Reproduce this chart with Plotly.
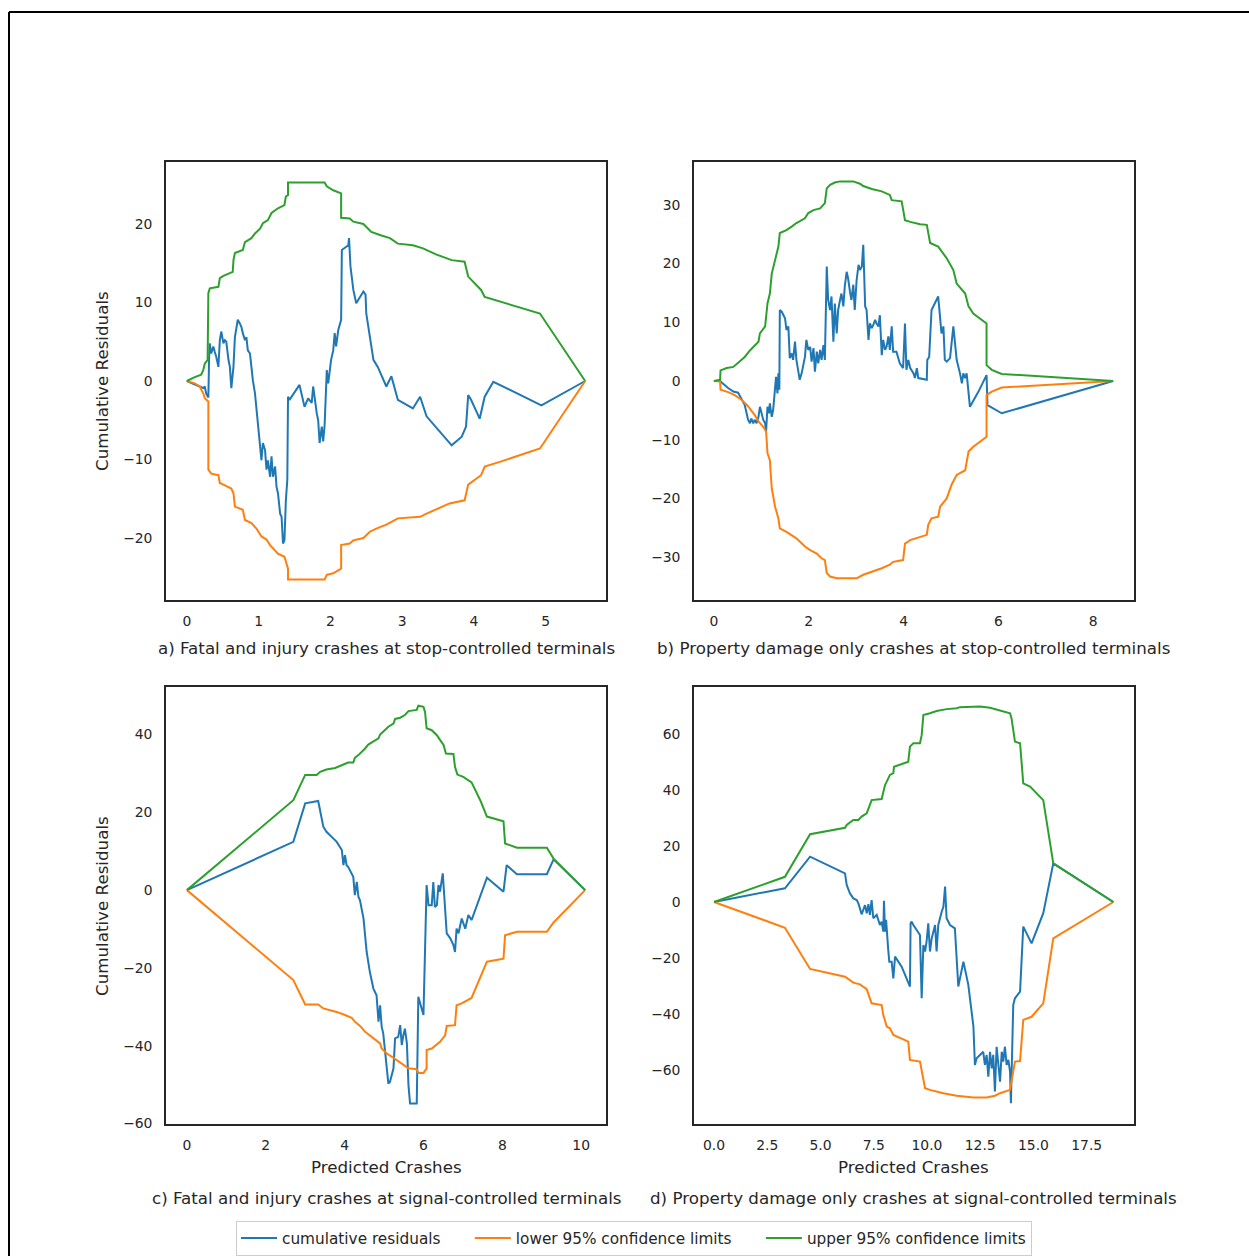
import plotly.graph_objects as go

# ---------------- data ----------------
# a) Fatal and injury crashes at stop-controlled terminals
A_RES_X = [0,0.09,0.18,0.23,0.25,0.27,0.30,0.31,0.32,0.34,
           0.37,0.39,0.41,0.44,0.46,0.48,0.51,0.53,0.55,0.58,
           0.60,0.62,0.65,0.67,0.69,0.71,0.74,0.76,0.78,0.81,
           0.83,0.85,0.88,0.90,0.92,0.95,0.97,0.99,1.02,1.04,
           1.06,1.09,1.11,1.13,1.16,1.18,1.20,1.23,1.25,1.27,
           1.30,1.32,1.34,1.36,1.38,1.40,1.41,1.43,1.57,1.64,
           1.69,1.74,1.76,1.78,1.81,1.83,1.85,1.88,1.90,1.92,
           1.95,1.97,1.99,2.01,2.04,2.06,2.08,2.11,2.15,2.16,
           2.25,2.26,2.28,2.32,2.36,2.46,2.49,2.50,2.60,2.66,
           2.78,2.85,2.94,3.15,3.25,3.34,3.69,3.83,3.89,3.92,
           3.96,4.08,4.15,4.27,4.94,5.55]
A_RES_Y = [0,-0.3,-0.7,-0.9,-0.7,-1.6,-2.1,2.7,4.8,3.5,
           4.4,3.7,3.1,1.8,5.2,6.3,4.8,5.2,5.0,2.7,
           1.8,-0.9,1.8,5.6,6.9,7.8,7.3,6.9,6.1,5.2,
           5.6,3.9,3.5,1.4,0.1,-1.6,-3.3,-5.8,-8.4,-10.1,
           -7.9,-8.8,-11.3,-10.1,-12.2,-9.6,-12.2,-10.9,-13.5,-14.3,
           -16.9,-17.3,-20.7,-20.3,-15.2,-12.6,-2.0,-2.4,-0.5,-3.3,
           -2.2,-2.8,-0.7,-2.4,-4.1,-5.0,-7.9,-5.8,-7.7,-5.6,
           1.4,-0.3,1.4,2.7,3.9,6.1,4.4,6.5,7.8,16.7,
           17.3,18.2,14.6,11.6,9.9,11.4,11.0,8.6,2.7,1.8,
           -0.7,0.6,-2.4,-3.5,-2.0,-4.5,-8.2,-7.1,-5.8,-1.8,
           -2.4,-4.8,-2.0,-0.1,-3.1,0]
A_LOW_X = [0,0.11,0.18,0.23,0.25,0.30,0.30,0.34,0.44,0.46,0.51,0.62,0.65,0.67,0.78,0.81,
           0.90,0.97,1.04,1.11,1.16,1.27,1.36,1.39,1.41,1.41,1.92,1.95,2.04,2.15,2.15,
           2.27,2.32,2.46,2.55,2.64,2.78,2.94,3.25,3.34,3.66,3.87,3.92,4.10,4.15,4.36,4.92,5.55]
A_LOW_Y = [0,-0.3,-0.7,-1.6,-2.2,-2.6,-11.3,-11.8,-12.0,-13.0,-13.2,-13.7,-14.3,-16.0,-16.4,-17.7,
           -18.1,-18.8,-19.8,-20.2,-20.9,-22.0,-22.4,-23.4,-23.9,-25.3,-25.3,-24.7,-24.5,-23.9,-20.9,
           -20.7,-20.3,-20.0,-19.2,-18.8,-18.3,-17.5,-17.3,-16.9,-15.6,-15.2,-13.2,-12.0,-10.9,-10.3,-8.6,0]
A_UP_X = [0,0.11,0.20,0.23,0.25,0.29,0.30,0.32,0.44,0.46,0.51,0.64,0.65,0.67,0.78,0.81,
          0.90,0.95,1.02,1.06,1.13,1.18,1.27,1.36,1.38,1.41,1.41,1.92,1.95,2.04,2.15,
          2.15,2.27,2.32,2.46,2.57,2.69,2.83,2.94,3.15,3.29,3.48,3.69,3.87,3.92,4.03,
          4.10,4.15,4.36,4.92,5.55]
A_UP_Y = [0,0.5,0.8,1.4,2.2,2.7,11.2,11.8,12.0,13.1,13.4,13.9,15.4,16.3,16.7,17.7,
          18.2,18.8,19.4,20.1,20.5,21.4,22.0,22.4,23.5,23.7,25.3,25.3,24.8,24.3,23.9,
          20.8,20.7,20.3,20.0,19.0,18.6,18.2,17.5,17.3,16.9,16.1,15.4,15.2,13.3,12.2,
          11.6,10.7,10.1,8.6,0]

# b) Property damage only crashes at stop-controlled terminals
B_RES_X = [0,0.13,0.20,0.30,0.41,0.51,0.58,0.65,0.69,0.72,
           0.76,0.79,0.83,0.86,0.90,0.94,0.97,1.01,1.04,1.08,
           1.10,1.13,1.16,1.18,1.22,1.25,1.29,1.31,1.34,1.36,
           1.38,1.39,1.43,1.50,1.53,1.57,1.60,1.64,1.67,1.71,
           1.74,1.78,1.81,1.85,1.88,1.92,1.95,1.99,2.03,2.06,
           2.10,2.13,2.17,2.20,2.24,2.27,2.31,2.34,2.38,2.41,
           2.45,2.48,2.52,2.55,2.59,2.62,2.66,2.69,2.73,2.76,
           2.80,2.83,2.87,2.90,2.94,2.97,3.01,3.05,3.08,3.12,
           3.15,3.16,3.19,3.22,3.26,3.29,3.33,3.36,3.40,3.43,
           3.47,3.50,3.54,3.57,3.61,3.64,3.68,3.71,3.75,3.78,
           3.85,3.92,3.99,4.03,4.06,4.10,4.14,4.21,4.24,4.28,
           4.31,4.49,4.50,4.54,4.56,4.59,4.73,4.77,4.80,4.84,
           4.87,4.91,4.98,5.05,5.08,5.12,5.19,5.23,5.26,5.30,
           5.33,5.40,5.58,5.75,5.77,6.07,8.42]
B_RES_Y = [0,0,-0.5,-1.2,-1.8,-2.0,-3.0,-4.1,-5.5,-6.6,
           -7.2,-6.4,-7.2,-6.6,-7.2,-6.1,-4.4,-5.5,-6.6,-7.2,
           -8.6,-4.4,-5.5,-3.8,-6.1,-4.9,-1.5,0.7,-2.1,1.3,
           -1.5,12.1,11.8,10.7,8.7,9.3,3.9,4.7,3.6,6.7,
           3.6,1.9,0.2,1.3,2.7,4.1,7.0,5.3,5.8,3.3,
           5.6,1.6,5.0,3.0,5.3,3.6,6.1,3.6,19.5,13.8,
           12.1,14.4,6.7,13.2,8.1,12.1,13.8,14.9,12.7,16.1,
           18.6,17.5,15.2,13.8,16.4,12.1,17.2,19.8,18.9,19.5,
           23.2,18.9,12.7,12.1,7.0,9.8,9.0,9.5,10.4,9.8,
           9.3,11.2,4.4,7.0,5.3,5.8,7.6,5.3,9.3,5.0,
           5.0,3.0,2.2,9.8,1.9,3.6,2.2,1.3,0.5,2.2,
           0.5,0.2,3.6,4.1,8.4,12.1,14.4,11.0,8.1,9.3,
           3.6,3.3,3.9,9.3,7.0,3.6,1.3,-0.4,1.3,0.5,
           1.3,-4.4,-1.8,1.0,-4.1,-5.5,0]
B_LOW_X = [0,0.13,0.14,0.30,0.44,0.58,0.72,0.86,0.94,1.04,
           1.10,1.13,1.18,1.22,1.29,1.36,1.39,1.53,1.74,1.92,
           2.03,2.17,2.27,2.34,2.38,2.45,2.59,3.01,3.15,3.33,
           3.54,3.71,3.78,3.99,4.03,4.14,4.49,4.52,4.59,4.73,
           4.77,4.91,5.01,5.12,5.30,5.37,5.47,5.75,5.75,5.86,
           6.07,8.42]
B_LOW_Y = [0,-0.1,-1.5,-1.9,-2.4,-3.2,-4.3,-5.8,-6.9,-7.8,
           -8.6,-12.3,-13.5,-18.3,-21.4,-23.4,-25.1,-25.7,-26.8,-28.2,
           -28.8,-29.4,-30.2,-30.5,-32.7,-33.3,-33.6,-33.6,-33.0,-32.5,
           -31.9,-31.3,-30.8,-30.5,-27.7,-27.1,-26.2,-24.5,-23.4,-23.1,
           -21.4,-20.0,-17.7,-16.0,-15.2,-12.0,-11.2,-9.5,-2.4,-1.8,
           -1.1,0]
B_UP_X = [0,0.13,0.14,0.27,0.41,0.55,0.65,0.76,0.83,0.94,
          0.97,1.08,1.13,1.18,1.22,1.29,1.36,1.39,1.53,1.64,
          1.74,1.92,1.99,2.10,2.24,2.34,2.38,2.45,2.55,2.66,
          2.94,3.08,3.15,3.33,3.54,3.71,3.75,3.96,4.03,4.14,
          4.35,4.49,4.56,4.73,4.91,5.05,5.12,5.30,5.37,5.47,
          5.75,5.75,5.86,6.07,8.42]
B_UP_Y = [0,0.2,1.8,2.2,2.4,3.3,4.1,5.2,5.8,6.7,
          8.1,9.3,13.2,14.9,18.3,20.6,22.9,25.2,25.7,26.3,
          26.9,27.7,28.6,29.1,29.4,30.3,32.8,33.4,33.8,34.0,
          34.0,33.6,33.2,32.7,32.3,31.7,30.8,30.6,27.4,27.1,
          26.7,26.6,23.5,22.9,20.9,18.9,16.6,14.9,12.7,11.5,
          9.8,2.7,1.9,1.2,0]

# c) Fatal and injury crashes at signal-controlled terminals
C_RES_X = [0,2.70,3.00,3.33,3.46,3.54,3.71,3.80,3.93,3.97,
           4.01,4.05,4.09,4.18,4.22,4.26,4.31,4.35,4.39,4.48,
           4.52,4.56,4.64,4.73,4.81,4.86,4.90,4.94,4.98,5.03,
           5.07,5.11,5.15,5.24,5.28,5.36,5.41,5.45,5.49,5.53,
           5.58,5.62,5.66,5.83,5.87,6.00,6.08,6.13,6.21,6.25,
           6.29,6.34,6.38,6.42,6.49,6.59,6.68,6.76,6.80,6.84,
           6.89,6.97,7.06,7.14,7.22,7.61,8.03,8.11,8.37,9.13,
           9.30,10.10]
C_RES_Y = [0,12.4,22.3,22.9,16.3,15.0,13.3,12.4,10.3,6.4,
           9.0,6.4,6.0,4.3,3.4,-1.3,2.1,-1.7,-2.6,-7.3,
           -12.4,-15.9,-21.0,-25.3,-27.0,-33.8,-29.6,-35.1,-36.8,-41.6,
           -46.7,-49.7,-49.3,-45.8,-38.1,-37.7,-34.7,-39.8,-37.3,-35.6,
           -39.4,-50.1,-54.8,-54.8,-27.4,-32.1,1.3,-3.9,-3.9,2.1,
           -4.3,-3.9,1.3,-0.4,4.3,-11.1,-12.4,-14.1,-15.9,-9.9,
           -11.1,-7.3,-9.9,-6.4,-7.7,3.2,-0.4,6.4,4.1,4.1,
           7.9,0]
C_LOW_X = [0,2.70,3.00,3.33,3.46,3.80,4.01,4.18,4.26,4.39,
           4.52,4.73,4.90,4.94,5.07,5.24,5.45,5.62,5.83,5.87,
           6.00,6.08,6.08,6.21,6.42,6.55,6.59,6.80,6.84,6.97,
           7.22,7.61,8.03,8.07,8.37,9.13,9.30,10.10]
C_LOW_Y = [0,-23.1,-29.4,-29.4,-30.4,-31.3,-32.1,-32.8,-33.8,-34.9,
           -36.4,-38.0,-39.4,-40.7,-42.0,-43.1,-44.6,-45.8,-46.0,-47.0,
           -47.0,-45.8,-41.1,-40.7,-39.0,-37.3,-34.9,-34.7,-29.6,-29.1,
           -27.7,-18.4,-17.6,-11.6,-10.7,-10.7,-8.3,0]
C_UP_X = [0,2.70,3.00,3.29,3.38,3.54,3.76,3.93,4.09,4.22,
          4.26,4.35,4.43,4.52,4.60,4.73,4.86,4.90,4.98,5.11,
          5.24,5.28,5.41,5.53,5.62,5.83,5.87,6.00,6.04,6.08,
          6.21,6.34,6.42,6.51,6.57,6.76,6.80,6.86,7.01,7.22,
          7.44,7.61,8.03,8.07,8.37,9.13,9.30,10.10]
C_UP_Y = [0,23.1,29.6,29.6,30.4,31.0,31.4,32.1,32.8,32.8,
          34.0,34.7,35.4,36.4,37.4,38.3,39.0,40.0,40.7,42.0,
          42.8,44.0,44.3,45.0,46.0,46.3,47.4,47.1,45.8,41.6,
          41.1,39.8,38.6,37.3,35.1,35.0,31.7,29.7,29.1,27.7,
          23.1,18.9,17.7,12.0,10.9,10.9,8.1,0]

# d) Property damage only crashes at signal-controlled terminals
D_RES_X = [0,3.33,4.51,6.15,6.23,6.38,6.54,6.70,6.78,6.93,
           7.09,7.17,7.25,7.32,7.40,7.48,7.64,7.79,7.87,7.95,
           7.98,8.03,8.08,8.14,8.18,8.23,8.34,8.42,8.50,8.81,
           9.05,9.20,9.23,9.28,9.36,9.67,9.75,9.83,9.91,9.98,
           10.06,10.14,10.22,10.38,10.45,10.53,10.69,10.77,10.85,10.92,
           11.08,11.31,11.47,11.71,11.94,12.02,12.18,12.25,12.33,12.64,
           12.72,12.80,12.88,12.96,13.04,13.11,13.19,13.27,13.35,13.43,
           13.51,13.58,13.66,13.74,13.82,13.90,13.94,14.05,14.13,14.37,
           14.52,14.91,15.46,15.93,18.75]
D_RES_Y = [0,4.9,16.2,10.2,6.1,3.1,1.3,0.7,-0.5,-4.4,
           -1.1,-4.0,-0.8,-4.6,0.7,-5.8,-4.6,-8.2,-7.0,-10.6,
           0.4,-10.6,-6.4,-15.4,-17.1,-21.3,-21.3,-27.3,-19.5,-23.1,
           -27.3,-30.2,-7.6,-7.0,-8.2,-11.8,-34.4,-15.4,-17.7,-14.2,
           -7.6,-17.7,-13.0,-8.2,-17.7,-8.2,-3.5,-1.7,5.5,-5.8,
           -8.2,-9.4,-30.2,-21.3,-29.6,-34.4,-44.5,-58.2,-55.8,-53.5,
           -58.2,-54.6,-62.4,-53.5,-59.4,-54.6,-67.7,-51.7,-57.0,-64.2,
           -53.5,-57.0,-51.7,-58.2,-56.4,-60.6,-71.9,-36.8,-34.4,-32.0,
           -8.8,-14.8,-4.0,13.8,0]
D_LOW_X = [0,3.33,4.51,6.15,6.54,6.85,7.17,7.40,7.87,7.95,
           8.11,8.26,8.42,9.12,9.20,9.67,9.91,10.14,10.77,11.39,
           12.18,12.80,13.19,13.43,13.90,14.13,14.37,14.52,14.91,15.46,
           15.93,18.75]
D_LOW_Y = [0,-9.2,-23.9,-26.7,-28.8,-29.4,-31.1,-36.2,-36.8,-40.4,
           -44.5,-45.1,-47.5,-49.9,-56.4,-57.0,-66.5,-67.1,-68.3,-69.2,
           -69.8,-69.8,-69.2,-68.3,-67.1,-57.0,-56.8,-42.1,-41.0,-36.2,
           -13.0,0]
D_UP_X = [0,3.33,4.51,6.15,6.23,6.38,6.54,6.78,6.93,7.17,
          7.25,7.40,7.87,7.95,8.03,8.11,8.26,8.42,8.45,9.12,
          9.20,9.36,9.67,9.75,9.83,10.14,10.45,10.92,11.39,11.55,
          12.02,12.49,12.96,13.19,13.43,13.90,13.97,14.13,14.37,14.52,
          14.84,15.15,15.46,15.93,18.75]
D_UP_Y = [0,9.0,24.2,26.5,27.5,28.3,29.3,29.3,30.5,31.7,
          33.5,36.4,36.8,39.4,41.8,43.0,45.4,46.0,48.3,50.1,
          55.5,56.7,56.7,59.6,66.8,67.4,68.2,68.9,69.2,69.6,
          69.8,69.8,69.4,68.9,68.2,67.4,65.6,57.3,56.7,42.4,
          41.2,38.8,36.4,13.8,0]

CAPTIONS = ["a) Fatal and injury crashes at stop-controlled terminals",
            "b) Property damage only crashes at stop-controlled terminals",
            "c) Fatal and injury crashes at signal-controlled terminals",
            "d) Property damage only crashes at signal-controlled terminals"]
SERIES_NAMES = ["cumulative residuals", "lower 95% confidence limits", "upper 95% confidence limits"]
X_LABEL = "Predicted Crashes"
Y_LABEL = "Cumulative Residuals"

# ---------------- layout / style ----------------
W, H = 1249, 1256
BLUE, ORANGE, GREEN = "#1f77b4", "#ff7f0e", "#2ca02c"
TXT = "#262626"
FONT = "DejaVu Sans"
FS_TICK = 13.9
FS_LABEL = 16.7
FS_LEG = 15.3

def px(x):
    return x / W

def py(y):
    return 1 - y / H

panels = [
    dict(data=(A_RES_X, A_RES_Y, A_LOW_X, A_LOW_Y, A_UP_X, A_UP_Y),
         xd=(166, 606), yd=(162, 600), xr=[-0.29, 5.84], yr=[-27.9, 27.9],
         xdt=1, ydt=10, xfmt=None),
    dict(data=(B_RES_X, B_RES_Y, B_LOW_X, B_LOW_Y, B_UP_X, B_UP_Y),
         xd=(694, 1134), yd=(162, 600), xr=[-0.42, 8.86], yr=[-37.3, 37.3],
         xdt=2, ydt=10, xfmt=None),
    dict(data=(C_RES_X, C_RES_Y, C_LOW_X, C_LOW_Y, C_UP_X, C_UP_Y),
         xd=(166, 606), yd=(687, 1124), xr=[-0.53, 10.63], yr=[-60.1, 52.2],
         xdt=2, ydt=20, xfmt=None),
    dict(data=(D_RES_X, D_RES_Y, D_LOW_X, D_LOW_Y, D_UP_X, D_UP_Y),
         xd=(694, 1134), yd=(687, 1124), xr=[-0.94, 19.72], yr=[-79.3, 76.8],
         xdt=2.5, ydt=20, xfmt=".1f"),
]

PAD = "\u00a0" * 5
fig = go.Figure()
layout = {}
for i, p in enumerate(panels):
    n = "" if i == 0 else str(i + 1)
    xa, ya = "x" + n, "y" + n
    rx, ry, lx, ly, ux, uy = p["data"]
    for k, (xs, ys, col) in enumerate([(rx, ry, BLUE), (lx, ly, ORANGE), (ux, uy, GREEN)]):
        name = SERIES_NAMES[k] + (PAD if k < 2 else "")
        fig.add_trace(go.Scatter(x=xs, y=ys, mode="lines", name=name,
                                 line=dict(color=col, width=2),
                                 xaxis=xa, yaxis=ya, showlegend=(i == 0),
                                 legendgroup=SERIES_NAMES[k]))
    common = dict(showgrid=False, zeroline=False, showline=True, mirror=True,
                  linecolor=TXT, linewidth=1.5, ticks="outside",
                  tickcolor="rgba(0,0,0,0)",
                  tickfont=dict(family=FONT, size=FS_TICK, color=TXT))
    layout["xaxis" + n] = dict(domain=[px(p["xd"][0]), px(p["xd"][1])], range=p["xr"],
                               anchor=ya, dtick=p["xdt"], tick0=0, ticklen=8,
                               tickformat=p["xfmt"], **common)
    layout["yaxis" + n] = dict(domain=[py(p["yd"][1]), py(p["yd"][0])], range=p["yr"],
                               anchor=xa, dtick=p["ydt"], tick0=0, ticklen=9, **common)

ann = []
def text(s, x, y, angle=0):
    ann.append(dict(text=s, x=px(x), y=py(y), xref="paper", yref="paper",
                    showarrow=False, xanchor="center", yanchor="middle",
                    textangle=angle, font=dict(family=FONT, size=FS_LABEL, color=TXT)))

text(Y_LABEL, 102, 381, -90)
text(Y_LABEL, 102, 906, -90)
text(CAPTIONS[0], 386, 648)
text(CAPTIONS[1], 913, 648)
text(X_LABEL, 386, 1167)
text(X_LABEL, 913, 1167)
text(CAPTIONS[2], 386, 1198)
text(CAPTIONS[3], 913, 1198)

shapes = [
    dict(type="line", xref="paper", yref="paper", x0=px(9), x1=px(9), y0=-0.02, y1=py(12),
         line=dict(color="black", width=2)),
    dict(type="line", xref="paper", yref="paper", x0=px(9), x1=1.02, y0=py(12), y1=py(12),
         line=dict(color="black", width=2)),
]

fig.update_layout(
    width=W, height=H, margin=dict(l=0, r=0, t=0, b=0, autoexpand=False),
    paper_bgcolor="white", plot_bgcolor="white",
    font=dict(family=FONT, size=FS_TICK, color=TXT),
    annotations=ann, shapes=shapes,
    legend=dict(orientation="h", x=px(634), xanchor="center", y=py(1238), yanchor="middle",
                bordercolor="#cccccc", borderwidth=1, bgcolor="white", itemwidth=36,
                font=dict(family=FONT, size=FS_LEG, color=TXT)),
    **layout,
)

fig.write_html("out.html", config={"displayModeBar": False},
               post_script="document.body.style.margin='0px';")
